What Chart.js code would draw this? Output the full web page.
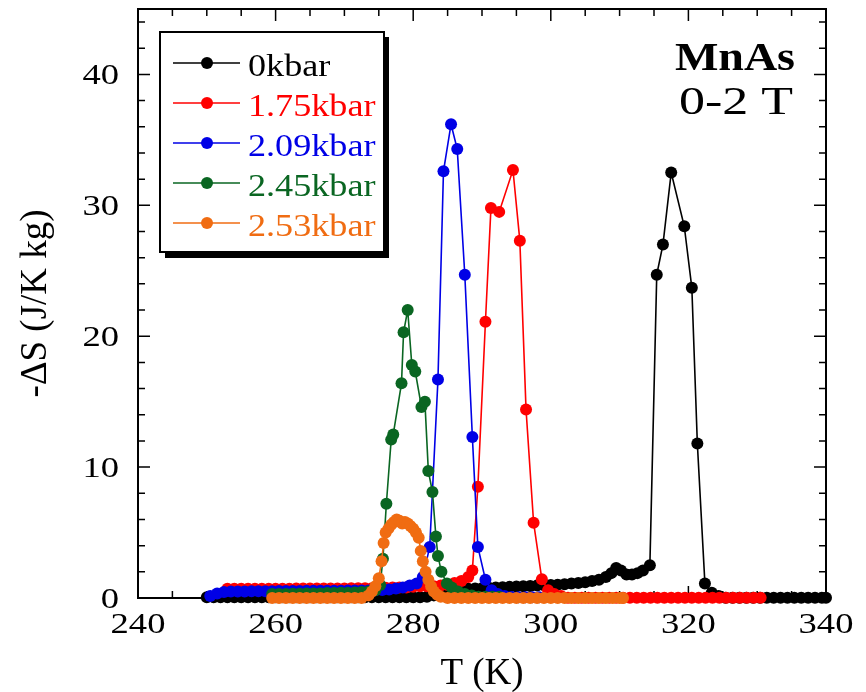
<!DOCTYPE html>
<html>
<head>
<meta charset="utf-8">
<script src="https://cdn.jsdelivr.net/npm/chart.js@4.4.0/dist/chart.umd.min.js"></script>
<style>
    body { margin: 0; background: #fff; }
    #wrap { width: 866px; height: 692px; position: relative; }
</style>
</head>
<body>
<div id="wrap"><canvas id="grafico"></canvas></div>
<script>
// Datos: T (K) y -dS (J/K kg) para cada presion
const tBlack = [250,251,252,253,254,255,256,257,258,259,260,261,262,263,264,265,266,267,268,269,270,271,272,273,274,
    275,276,277,278,279,280,281,282,283,284,285,286,287,288,289,290,291,292,293,294,295,296,297,298,299,300,
    301,302,303,304,305,306,307,308,308.8,309.5,310.2,311,311.8,312.6,313.4,314.4,315.4,316.3,317.5,319.4,320.5,
    321.3,322.4,323.4,324.4,325.4,326.4,327.4,328.4,329.4,330.4,331.4,332.4,333.4,334.4,335.4,336.4,337.4,338.4,339.4,340];
const sBlack = [0.05,0.05,0.05,0.05,0.05,0.05,0.05,0.05,0.05,0.05,0.05,0.05,0.05,0.05,0.05,0.05,0.05,0.05,0.05,0.05,0.05,0.05,0.05,0.05,0.05,
    0.05,0.05,0.05,0.05,0.05,0.05,0.05,0.1,0.2,0.4,0.55,0.65,0.7,0.7,0.72,0.75,0.78,0.8,0.82,0.85,0.88,0.9,0.92,0.95,0.98,1.0,
    1.02,1.05,1.1,1.15,1.2,1.3,1.4,1.6,1.9,2.3,2.1,1.8,1.8,1.9,2.1,2.5,24.7,27.0,32.5,28.4,23.7,
    11.8,1.1,0.4,0.15,0.02,0.02,0.02,0.02,0.02,0.02,0.02,0.02,0.02,0.02,0.02,0.02,0.02,0.02,0.02,0.02];

const tRed = [253,254,255,256,257,258,259,260,261,262,263,264,265,266,267,268,269,270,271,272,273,274,275,276,277,278,279,280,
    281,282,283,284,285,286,287,288,288.6,289.4,290.5,291.3,292.5,294.5,295.5,296.4,297.5,298.7,299.6,300.5,301.5,
    302.5,303.5,304.5,305.5,306.5,307.5,308.5,309.5,310.5,311.5,312.5,313.5,314.5,315.5,316.5,317.5,318.5,319.5,320.5,
    321.5,322.5,323.5,324.5,325.5,326.5,327.5,328.5,329.5,330.5];
const sRed = [0.7,0.7,0.7,0.7,0.7,0.7,0.7,0.7,0.7,0.7,0.72,0.72,0.72,0.72,0.72,0.72,0.72,0.72,0.75,0.75,0.75,0.75,0.78,0.78,0.8,0.8,0.8,0.85,
    0.9,0.9,0.9,0.95,1.0,1.15,1.3,1.6,2.1,8.5,21.1,29.8,29.5,32.7,27.3,14.4,5.75,1.43,0.6,0.3,0.15,
    0.02,0.02,0.02,0.02,0.02,0.02,0.02,0.02,0.02,0.02,0.02,0.02,0.02,0.02,0.02,0.02,0.02,0.02,0.02,
    0.02,0.02,0.02,0.02,0.02,0.02,0.02,0.02,0.02,0.02];

const tBlue = [250.5,251.5,252.5,253.5,254.5,255.5,256.5,257.5,258.5,259.5,260.5,261.5,262.5,263.5,264.5,265.5,266.5,267.5,
    268.5,269.5,270.5,271.5,272.5,273.5,274.5,275.5,276.5,277.5,278.5,279.5,280.5,281.4,282.4,283.6,284.4,285.5,286.4,
    287.5,288.6,289.4,290.5,291.4,292.3,293.3,294.3,295.3,296.3,297.3,298.3];
const sBlue = [0.15,0.35,0.45,0.5,0.5,0.5,0.52,0.52,0.52,0.52,0.53,0.53,0.53,0.53,0.55,0.55,0.55,0.55,
    0.56,0.56,0.57,0.57,0.58,0.58,0.6,0.62,0.65,0.72,0.8,0.95,1.1,1.6,3.9,16.7,32.6,36.2,34.3,
    24.7,12.3,3.9,1.4,0.6,0.3,0.15,0.08,0.05,0.05,0.05,0.05];

const tGreen = [259.5,260.5,261.5,262.5,263.5,264.5,265.5,266.5,267.5,268.5,269.5,270.5,271.5,272.5,273.5,274.5,275.2,275.6,
    276.1,276.8,277.1,278.3,278.6,279.2,279.8,280.3,281.2,281.7,282.2,282.8,283.3,283.6,284.1,284.9,285.6,286.5,287.5,
    288.5,289.5,290.5,291.5,292.5];
const sGreen = [0.3,0.3,0.3,0.32,0.32,0.35,0.35,0.35,0.38,0.38,0.4,0.4,0.42,0.45,0.5,0.6,1.0,3.0,
    7.2,12.1,12.5,16.4,20.3,22.0,17.8,17.3,14.6,15.0,9.7,8.1,4.7,3.2,2.0,1.1,0.8,0.5,0.3,
    0.2,0.1,0.1,0.1,0.1];

const tOrange = [259.5,260.5,261.5,262.5,263.5,264.5,265.5,266.5,267.5,268.5,269.5,270.5,271.5,272.5,273.5,274,274.5,275,
    275.4,275.7,276,276.4,276.8,277.2,277.6,278,278.4,278.8,279.2,279.6,280,280.4,280.8,281.1,281.4,281.8,282.2,282.6,
    283,283.5,284,285,286,287,288,289,290,291,292,293,294,295,296,297,298,299,300,301,302,303,304,305,306,307,308,309,310,310.5];
const sOrange = [0,0,0,0,0,0,0,0,0,0,0,0,0,0,0.2,0.5,0.9,1.5,
    2.8,4.2,5.0,5.3,5.6,5.8,6.0,5.9,5.7,5.8,5.7,5.5,5.3,5.0,4.6,3.6,2.8,2.0,1.4,0.9,
    0.5,0.25,0.1,0,0,0,0,0,0,0,0,0,0,0,0,0,0,0,0,0,0,0,0,0,0,0,0,0,0,0];

const serieNombres = ['0kbar', '1.75kbar', '2.09kbar', '2.45kbar', '2.53kbar'];
const serieColores = ['#000000', '#ff0000', '#0000e6', '#0a6622', '#f06c12'];
const xTicks = [240, 260, 280, 300, 320, 340];
const yTicks = [0, 10, 20, 30, 40];

const serif = '"Liberation Serif", "Times New Roman", serif';

function puntos(ts, ss) {
    return ts.map((t, i) => ({ x: t, y: ss[i] }));
}

function textoEstirado(ctx, texto, x, y, align, escala) {
    ctx.save();
    ctx.translate(x, y);
    ctx.scale(escala, 1);
    ctx.textAlign = align;
    ctx.fillText(texto, 0, 0);
    ctx.restore();
}

// Marco, ticks hacia dentro y etiquetas de los ejes
const ejesPlugin = {
    id: 'ejes',
    beforeDatasetsDraw(chart) {
        const { ctx, chartArea: a, scales: { x, y } } = chart;
        ctx.save();
        ctx.strokeStyle = '#000';
        ctx.lineWidth = 1.5;
        ctx.beginPath();
        for (let v = x.min; v <= x.max; v += 5) {
            const px = x.getPixelForValue(v);
            const len = xTicks.includes(v) ? 12 : 7;
            ctx.moveTo(px, a.bottom); ctx.lineTo(px, a.bottom - len);
            ctx.moveTo(px, a.top); ctx.lineTo(px, a.top + len);
        }
        for (let v = 0; v <= y.max; v += 2) {
            const py = y.getPixelForValue(v);
            const len = yTicks.includes(v) ? 12 : 7;
            ctx.moveTo(a.left, py); ctx.lineTo(a.left + len, py);
            ctx.moveTo(a.right, py); ctx.lineTo(a.right - len, py);
        }
        ctx.stroke();
        ctx.lineWidth = 2;
        ctx.strokeRect(a.left, a.top, a.right - a.left, a.bottom - a.top);

        ctx.fillStyle = '#000';
        ctx.font = '30px ' + serif;
        ctx.textBaseline = 'alphabetic';
        xTicks.forEach(v => textoEstirado(ctx, String(v), x.getPixelForValue(v), a.bottom + 35, 'center', 1.22));
        yTicks.forEach(v => textoEstirado(ctx, String(v), a.left - 19, y.getPixelForValue(v) + 10, 'right', 1.22));

        ctx.font = '37px ' + serif;
        ctx.textAlign = 'center';
        ctx.fillText('T (K)', (a.left + a.right) / 2, 684);
        ctx.save();
        ctx.translate(46, (a.top + a.bottom) / 2);
        ctx.rotate(-Math.PI / 2);
        ctx.fillText('-\u0394S (J/K kg)', 0, 0);
        ctx.restore();
        ctx.restore();
    },
    afterDraw(chart) {
        const ctx = chart.ctx;
        ctx.save();
        // Leyenda con sombra
        ctx.fillStyle = '#000';
        ctx.fillRect(165, 37, 224, 221);
        ctx.fillStyle = '#fff';
        ctx.fillRect(160, 32, 224, 220);
        ctx.strokeStyle = '#000';
        ctx.lineWidth = 2;
        ctx.strokeRect(160, 32, 224, 220);
        ctx.font = '32px ' + serif;
        ctx.textBaseline = 'alphabetic';
        serieNombres.forEach((nombre, i) => {
            const yy = 63 + 40 * i;
            ctx.strokeStyle = serieColores[i];
            ctx.lineWidth = 1.5;
            ctx.beginPath();
            ctx.moveTo(173, yy); ctx.lineTo(240, yy);
            ctx.stroke();
            ctx.fillStyle = serieColores[i];
            ctx.beginPath();
            ctx.arc(207, yy, 6, 0, Math.PI * 2);
            ctx.fill();
            textoEstirado(ctx, nombre, 248, yy + 13, 'left', 1.13);
        });
        // Anotacion
        ctx.fillStyle = '#000';
        ctx.font = 'bold 40px ' + serif;
        textoEstirado(ctx, 'MnAs', 795, 70, 'right', 1.15);
        ctx.font = '40px ' + serif;
        textoEstirado(ctx, '0-2 T', 793, 114, 'right', 1.3);
        ctx.restore();
    }
};

const series = [
    [tBlack, sBlack], [tRed, sRed], [tBlue, sBlue], [tGreen, sGreen], [tOrange, sOrange]
];

const datasets = series.map(([ts, ss], i) => ({
    label: serieNombres[i],
    data: puntos(ts, ss),
    showLine: true,
    borderColor: serieColores[i],
    backgroundColor: serieColores[i],
    borderWidth: 1.6,
    pointRadius: 6,
    pointBorderWidth: 0,
    pointBackgroundColor: serieColores[i],
    clip: false,
    order: 4 - i   // el naranja queda encima
}));

const ctx = document.getElementById('grafico').getContext('2d');
const myChart = new Chart(ctx, {
    type: 'scatter',
    data: { datasets: datasets },
    options: {
        responsive: true,
        maintainAspectRatio: false,
        animation: false,
        devicePixelRatio: 1,
        layout: { padding: { left: 138, right: 40, top: 9, bottom: 94 } },
        scales: {
            x: { type: 'linear', min: 240, max: 340, display: false },
            y: { type: 'linear', min: 0, max: 45, display: false }
        },
        plugins: {
            legend: { display: false },
            tooltip: { enabled: false }
        }
    },
    plugins: [ejesPlugin]
});
</script>
</body>
</html>
